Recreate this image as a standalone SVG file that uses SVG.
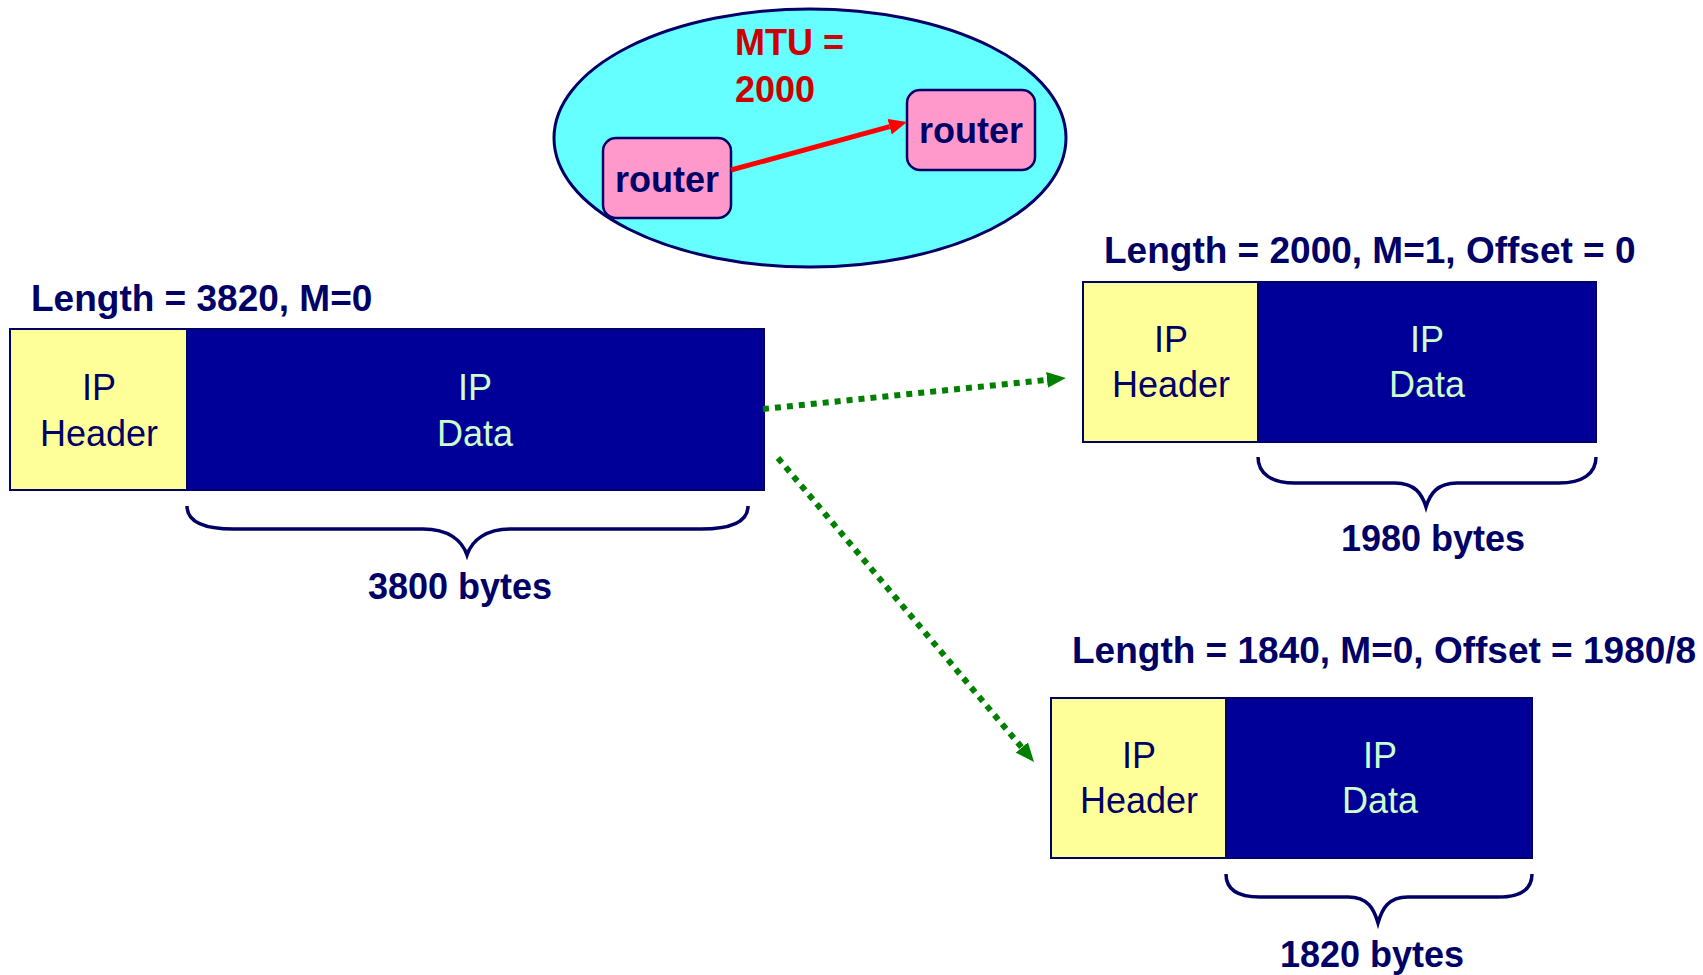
<svg xmlns="http://www.w3.org/2000/svg" width="1703" height="975" viewBox="0 0 1703 975">
<style>
.lbl{font-family:"Liberation Sans",Arial,sans-serif;font-weight:bold;font-size:37px;fill:#000066}
.rt{font-family:"Liberation Sans",Arial,sans-serif;font-weight:bold;font-size:36px;fill:#000066;text-anchor:middle}
.mtu{font-family:"Liberation Sans",Arial,sans-serif;font-weight:bold;font-size:36px;fill:#CC0000}
.ht{font-family:"Liberation Sans",Arial,sans-serif;font-size:36px;fill:#000066;text-anchor:middle}
.dt{font-family:"Liberation Sans",Arial,sans-serif;font-size:36px;fill:#CCFFCC;text-anchor:middle}
.by{font-family:"Liberation Sans",Arial,sans-serif;font-weight:bold;font-size:36px;fill:#000066;text-anchor:middle}
.hdr{fill:#FFFF99;stroke:#000066;stroke-width:2}
.dat{fill:#000099;stroke:#000066;stroke-width:2}
.router{fill:#FF99CC;stroke:#000066;stroke-width:2.5}
.brace{fill:none;stroke:#000066;stroke-width:3.5}
.dot{stroke:#008000;stroke-width:6;stroke-dasharray:6 6;fill:none}
</style>
<defs>
<marker id="ag" markerUnits="userSpaceOnUse" markerWidth="22" markerHeight="18" refX="0" refY="8" orient="auto"><path d="M0,0 L19,8 L0,16 z" fill="#008000"/></marker>
<marker id="ar" markerUnits="userSpaceOnUse" markerWidth="20" markerHeight="18" refX="0" refY="8" orient="auto"><path d="M0,0 L18,8 L0,16 z" fill="#FF0000"/></marker>
</defs>

<g id="network">
<ellipse cx="810" cy="138" rx="256" ry="129" fill="#66FFFF" stroke="#000066" stroke-width="3"/>
<text class="mtu" x="735" y="55">MTU =</text>
<text class="mtu" x="735" y="102">2000</text>
</g>
<g id="router1">
<rect class="router" x="603" y="138" width="128" height="80" rx="13"/>
<text class="rt" x="667" y="192">router</text>
</g>
<g id="router2">
<rect class="router" x="907" y="90" width="128" height="80" rx="13"/>
<text class="rt" x="971" y="143">router</text>
</g>

<g id="packet-original">
<text class="lbl" x="31" y="311">Length = 3820, M=0</text>
<rect class="hdr" x="10" y="329" width="177" height="161"/>
<rect class="dat" x="187" y="329" width="577" height="161"/>
<text class="ht" x="99" y="400">IP</text>
<text class="ht" x="99" y="446">Header</text>
<text class="dt" x="475" y="400">IP</text>
<text class="dt" x="475" y="446">Data</text>
<path class="brace" d="M187,506 C187,522 205,529 234,529 L423,529 C448,529 462,540 467,555 C472,540 486,529 511,529 L701,529 C730,529 748,522 748,506"/>
<text class="by" x="460" y="599">3800 bytes</text>
</g>

<g id="fragment1">
<text class="lbl" x="1104" y="263">Length = 2000, M=1, Offset = 0</text>
<rect class="hdr" x="1083" y="282" width="175" height="160"/>
<rect class="dat" x="1258" y="282" width="338" height="160"/>
<text class="ht" x="1171" y="352">IP</text>
<text class="ht" x="1171" y="397">Header</text>
<text class="dt" x="1427" y="352">IP</text>
<text class="dt" x="1427" y="397">Data</text>
<path class="brace" d="M1258,457 C1258,474 1272,483 1295,483 L1395,483 C1415,483 1422,494 1426,507 C1430,494 1437,483 1457,483 L1559,483 C1582,483 1596,474 1596,457"/>
<text class="by" x="1433" y="551">1980 bytes</text>
</g>

<g id="fragment2">
<text class="lbl" x="1072" y="663">Length = 1840, M=0, Offset = 1980/8</text>
<rect class="hdr" x="1051" y="698" width="175" height="160"/>
<rect class="dat" x="1226" y="698" width="306" height="160"/>
<text class="ht" x="1139" y="768">IP</text>
<text class="ht" x="1139" y="813">Header</text>
<text class="dt" x="1380" y="768">IP</text>
<text class="dt" x="1380" y="813">Data</text>
<path class="brace" d="M1226,874 C1226,890 1238,897 1260,897 L1348,897 C1368,897 1374,909 1378,923 C1382,909 1388,897 1408,897 L1498,897 C1520,897 1532,890 1532,874"/>
<text class="by" x="1372" y="967">1820 bytes</text>
</g>

<g id="connectors">
<line x1="731" y1="170" x2="889.6" y2="126.7" stroke="#FF0000" stroke-width="5" marker-end="url(#ar)"/>
<line class="dot" x1="763" y1="409" x2="1047" y2="379.9" marker-end="url(#ag)"/>
<line class="dot" x1="778" y1="458" x2="1021.8" y2="747.5" marker-end="url(#ag)"/>
</g>
</svg>
